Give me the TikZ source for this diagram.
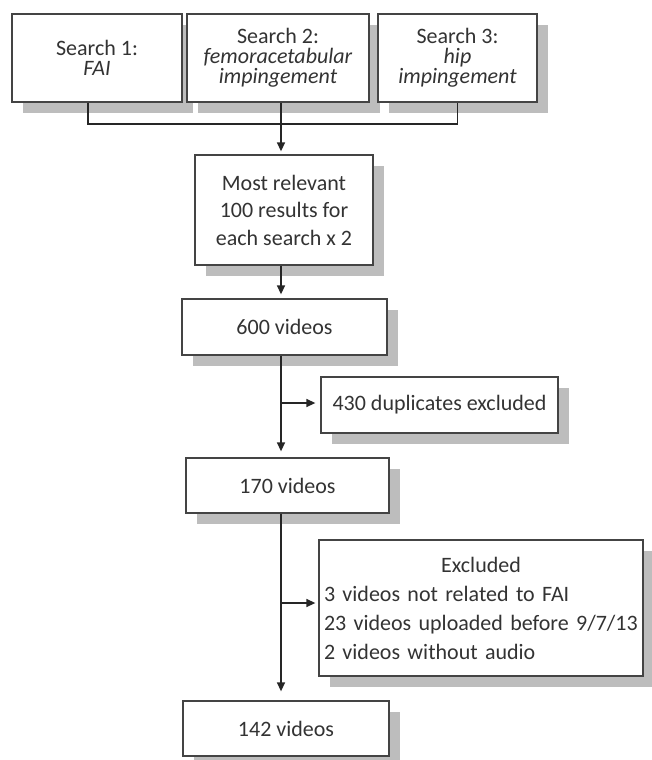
\documentclass[tikz,border=0pt]{standalone}
\usepackage{fontspec}
\setmainfont{Carlito}
\usetikzlibrary{arrows.meta,shadows,calc}
\definecolor{ink}{HTML}{333333}
\definecolor{edge}{HTML}{444444}
\definecolor{shade}{HTML}{BDBDBD}
\begin{document}
\begin{tikzpicture}[x=1pt,y=-1pt,
  box/.style={draw=edge, line width=1.3pt, fill=white, inner sep=0pt, text=ink,
    align=center, font=\fontsize{22}{27.5}\selectfont,
    drop shadow={shadow xshift=11pt, shadow yshift=-11pt, fill=shade, opacity=1}},
  topbox/.style={box, minimum height=88pt, font=\fontsize{22}{20}\selectfont},
  line/.style={draw=black!85, line width=1.4pt},
  arr/.style={line, -{Triangle[length=9pt,width=8pt]}}]
\useasboundingbox (0,0) rectangle (651,760);
\node[topbox, minimum width=170pt] (b1) at (97,58) {Search 1:\\\textit{FAI}};
\node[topbox, minimum width=182pt] (b2) at (278,58) {Search 2:\\\textit{femoracetabular}\\\textit{impingement}};
\node[topbox, minimum width=159pt] (b3) at (457.5,58) {Search 3:\\\textit{hip}\\\textit{impingement}};
\node[box, minimum width=178pt, minimum height=110pt] (mr) at (284,210) {Most relevant\\100 results for\\each search x 2};
\node[box, minimum width=205pt, minimum height=56pt] (v600) at (284.5,327) {600 videos};
\node[box, minimum width=237pt, minimum height=56pt] (d430) at (439.5,405) {430 duplicates excluded};
\node[box, minimum width=203pt, minimum height=55pt] (v170) at (287.5,485.5) {170 videos};
\node[box, minimum width=324pt, minimum height=136pt, text width=314pt, align=left,
  font=\fontsize{22}{29}\selectfont] (ex) at (481,608)
  {\makebox[\linewidth]{Excluded}\\3 videos not related to FAI\\23 videos uploaded before 9/7/13\\2 videos without audio};
\node[box, minimum width=206pt, minimum height=55pt] (v142) at (286,728.5) {142 videos};
\coordinate (j) at (281,124);
\coordinate (k1) at (281,403);
\coordinate (k2) at (281,603);
\draw[line] ([xshift=-9pt]b1.south) |- (j) -| (b3.south);
\draw[line] (b2.south -| j) -- (j);
\draw[arr, shorten >=3pt] (j) -- (mr.north -| j);
\draw[arr, shorten >=4pt] (mr.south -| j) -- (v600.north -| j);
\draw[arr, shorten >=6pt] (v600.south -| j) -- (v170.north -| j);
\draw[arr, shorten >=5pt] (k1) -- (k1 -| d430.west);
\draw[arr, shorten >=9pt] (v170.south -| j) -- (v142.north -| j);
\draw[arr, shorten >=3pt] (k2) -- (k2 -| ex.west);
\end{tikzpicture}
\end{document}
